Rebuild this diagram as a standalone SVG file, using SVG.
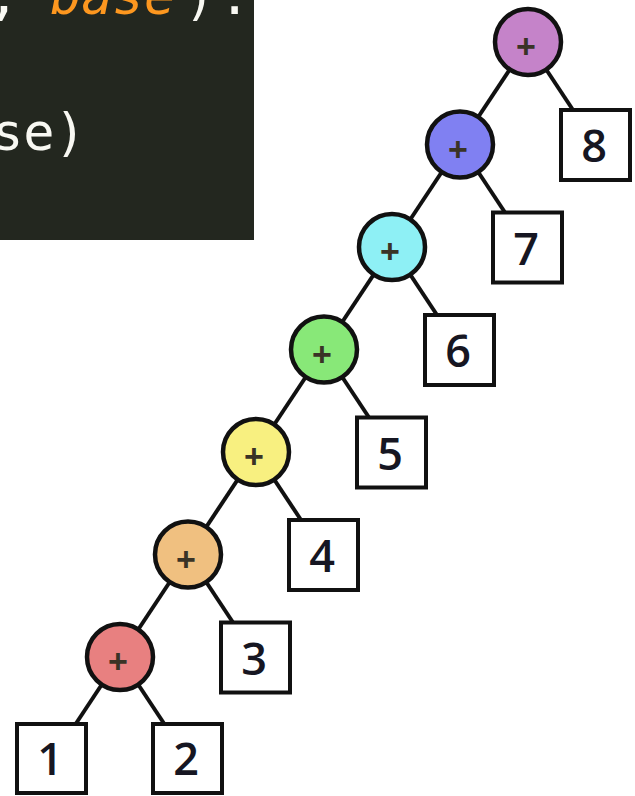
<svg xmlns="http://www.w3.org/2000/svg" width="635" height="796" viewBox="0 0 635 796">
<style>
.code{font-family:"DejaVu Sans Mono","Liberation Mono",monospace;font-size:52px;fill:#f8f8f2}
.arg{fill:#fd971f;font-style:italic}
.op circle{stroke:#111;stroke-width:4.5}
.op text{font-family:"Liberation Sans",Arial,sans-serif;font-size:34px;font-weight:bold;fill:#3a3326;text-anchor:middle}
.leaf rect{fill:#fff;stroke:#111;stroke-width:4}
.leaf text{font-family:"Open Sans","Liberation Sans",sans-serif;font-size:45px;font-weight:600;fill:#161622;text-anchor:middle}
#edges line{stroke:#111;stroke-width:4}
</style>
<rect width="635" height="796" fill="#fff"/>
<g id="code">
<rect x="0" y="0" width="254" height="240" fill="#23271f"/>
<text class="code" y="14"><tspan x="-12">,</tspan><tspan class="arg" x="50">base</tspan><tspan x="184">)</tspan><tspan x="219">:</tspan></text>
<text class="code" x="-8" y="150">se)</text>
</g>
<g id="edges">
<line x1="528" y1="42" x2="460" y2="144.5"/>
<line x1="460" y1="144.5" x2="392" y2="247"/>
<line x1="392" y1="247" x2="324" y2="349.5"/>
<line x1="324" y1="349.5" x2="256" y2="452"/>
<line x1="256" y1="452" x2="188" y2="554.5"/>
<line x1="188" y1="554.5" x2="120" y2="657"/>
<line x1="528" y1="42" x2="573" y2="110"/>
<line x1="460" y1="144.5" x2="505" y2="212.5"/>
<line x1="392" y1="247" x2="437" y2="315"/>
<line x1="324" y1="349.5" x2="369" y2="417.5"/>
<line x1="256" y1="452" x2="301" y2="520"/>
<line x1="188" y1="554.5" x2="233" y2="622.5"/>
<line x1="120" y1="657" x2="165" y2="725"/>
<line x1="120" y1="657" x2="75" y2="725"/>
</g>
<g id="op7" class="op"><circle cx="528" cy="42" r="33" fill="#c583c9"/><text x="526" y="58">+</text></g>
<g id="op6" class="op"><circle cx="460" cy="144.5" r="33" fill="#8080f2"/><text x="458" y="160.5">+</text></g>
<g id="op5" class="op"><circle cx="392" cy="247" r="33" fill="#8ef0f5"/><text x="390" y="263">+</text></g>
<g id="op4" class="op"><circle cx="324" cy="349.5" r="33" fill="#88e878"/><text x="322" y="365.5">+</text></g>
<g id="op3" class="op"><circle cx="256" cy="452" r="33" fill="#f8f080"/><text x="254" y="468">+</text></g>
<g id="op2" class="op"><circle cx="188" cy="554.5" r="33" fill="#f0c080"/><text x="186" y="570.5">+</text></g>
<g id="op1" class="op"><circle cx="120" cy="657" r="33" fill="#e88080"/><text x="118" y="673">+</text></g>
<g id="n8" class="leaf"><rect x="561" y="110" width="69" height="70"/><text x="594" y="162">8</text></g>
<g id="n7" class="leaf"><rect x="493" y="212.5" width="69" height="70"/><text x="526" y="264.5">7</text></g>
<g id="n6" class="leaf"><rect x="425" y="315" width="69" height="70"/><text x="458" y="367">6</text></g>
<g id="n5" class="leaf"><rect x="357" y="417.5" width="69" height="70"/><text x="390" y="469.5">5</text></g>
<g id="n4" class="leaf"><rect x="289" y="520" width="69" height="70"/><text x="322" y="572">4</text></g>
<g id="n3" class="leaf"><rect x="221" y="622.5" width="69" height="70"/><text x="254" y="674.5">3</text></g>
<g id="n2" class="leaf"><rect x="153" y="724" width="69" height="69"/><text x="186" y="775">2</text></g>
<g id="n1" class="leaf"><rect x="17" y="724" width="69" height="69"/><text x="50" y="775">1</text></g>
</svg>
